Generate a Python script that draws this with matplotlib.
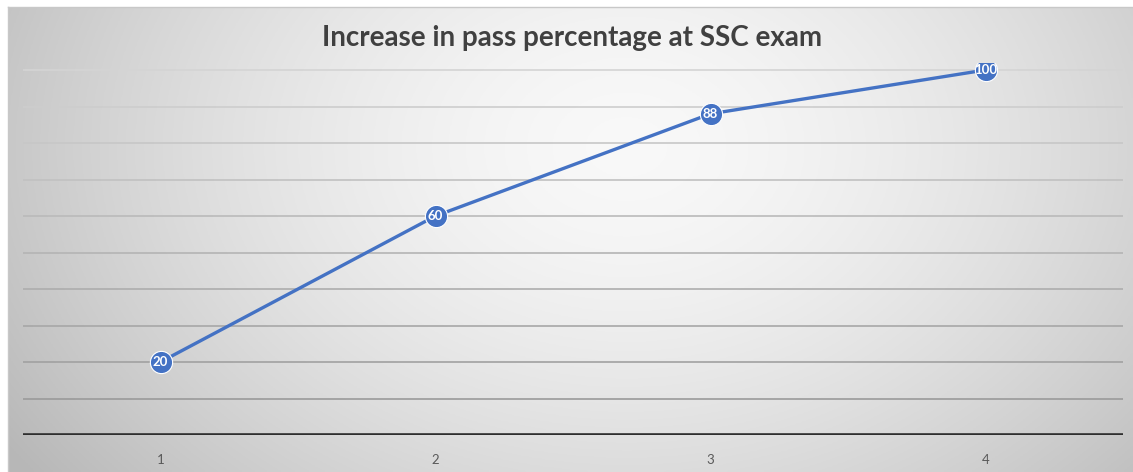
import numpy as np
import matplotlib
matplotlib.use("Agg")
from matplotlib import pyplot as plt

title = "Increase in pass percentage at SSC exam"
points = [1, 2, 3, 4]
pass_pct = [20, 60, 88, 100]
grid_levels = [10, 20, 30, 40, 50, 60, 70, 80, 90, 100]

W, H = 1133, 472
fig = plt.figure(figsize=(W / 100, H / 100), dpi=100)
fig.patch.set_facecolor("white")

# radial gradient background
bg = fig.add_axes([8 / W, 0, 1 - 8 / W, 1 - 7 / H])
xx, yy = np.meshgrid(np.linspace(0, 1, 400), np.linspace(0, 1, 200))
r = np.sqrt(((xx - 0.55) / 0.62) ** 2 + ((yy - 0.3) / 1.1) ** 2)
shade = np.clip(0.975 - 0.23 * r ** 1.6, 0.72, 1)
bg.imshow(np.dstack([shade] * 3), aspect="auto", extent=[0, 1, 1, 0])
bg.set_axis_off()
fig.add_artist(plt.Line2D([8 / W, 8 / W], [0, 1 - 7 / H], color="#c8c8c8", lw=1))
fig.add_artist(plt.Line2D([8 / W, 1], [1 - 7 / H, 1 - 7 / H], color="#c8c8c8", lw=1))

# main axes: y=0 at 435px, y=100 at 70px
ppu = (435 - 70) / 100
top = 70 - ppu * 2
ax = fig.add_axes([23 / W, (H - 435) / H, 1100 / W, (435 - top) / H])
ax.patch.set_alpha(0)
ax.set_xlim(0.5, 4.5)
ax.set_ylim(0, 102)

for g in grid_levels:
    c = 0.58 + 0.25 * (g / 100)
    ax.axhline(g, color=(c, c, c), lw=1.2, zorder=1)
ax.axhline(0, color="#2e2e2e", lw=2.6, zorder=2)

ax.plot(points, pass_pct, color="#4472C4", lw=2.4, marker="o", markersize=16,
        markerfacecolor="#4472C4", markeredgecolor="white", markeredgewidth=0.8, zorder=3)
for x, v in zip(points, pass_pct):
    ax.text(x, v, str(v), color="white", fontsize=9.5, fontweight="bold",
            ha="center", va="center", family="Lato", zorder=4)

for s in ax.spines.values():
    s.set_visible(False)
ax.set_yticks([])
ax.set_xticks(points)
ax.set_xticklabels([str(p) for p in points], color="#595959", fontsize=9.5, family="Lato")
ax.tick_params(axis="x", length=0, pad=14)

fig.text(572 / W, 1 - 38 / H, title, ha="center", va="center", fontsize=20,
         fontweight="bold", color="#404040", family="Lato")

fig.savefig("out.png", dpi=100)
